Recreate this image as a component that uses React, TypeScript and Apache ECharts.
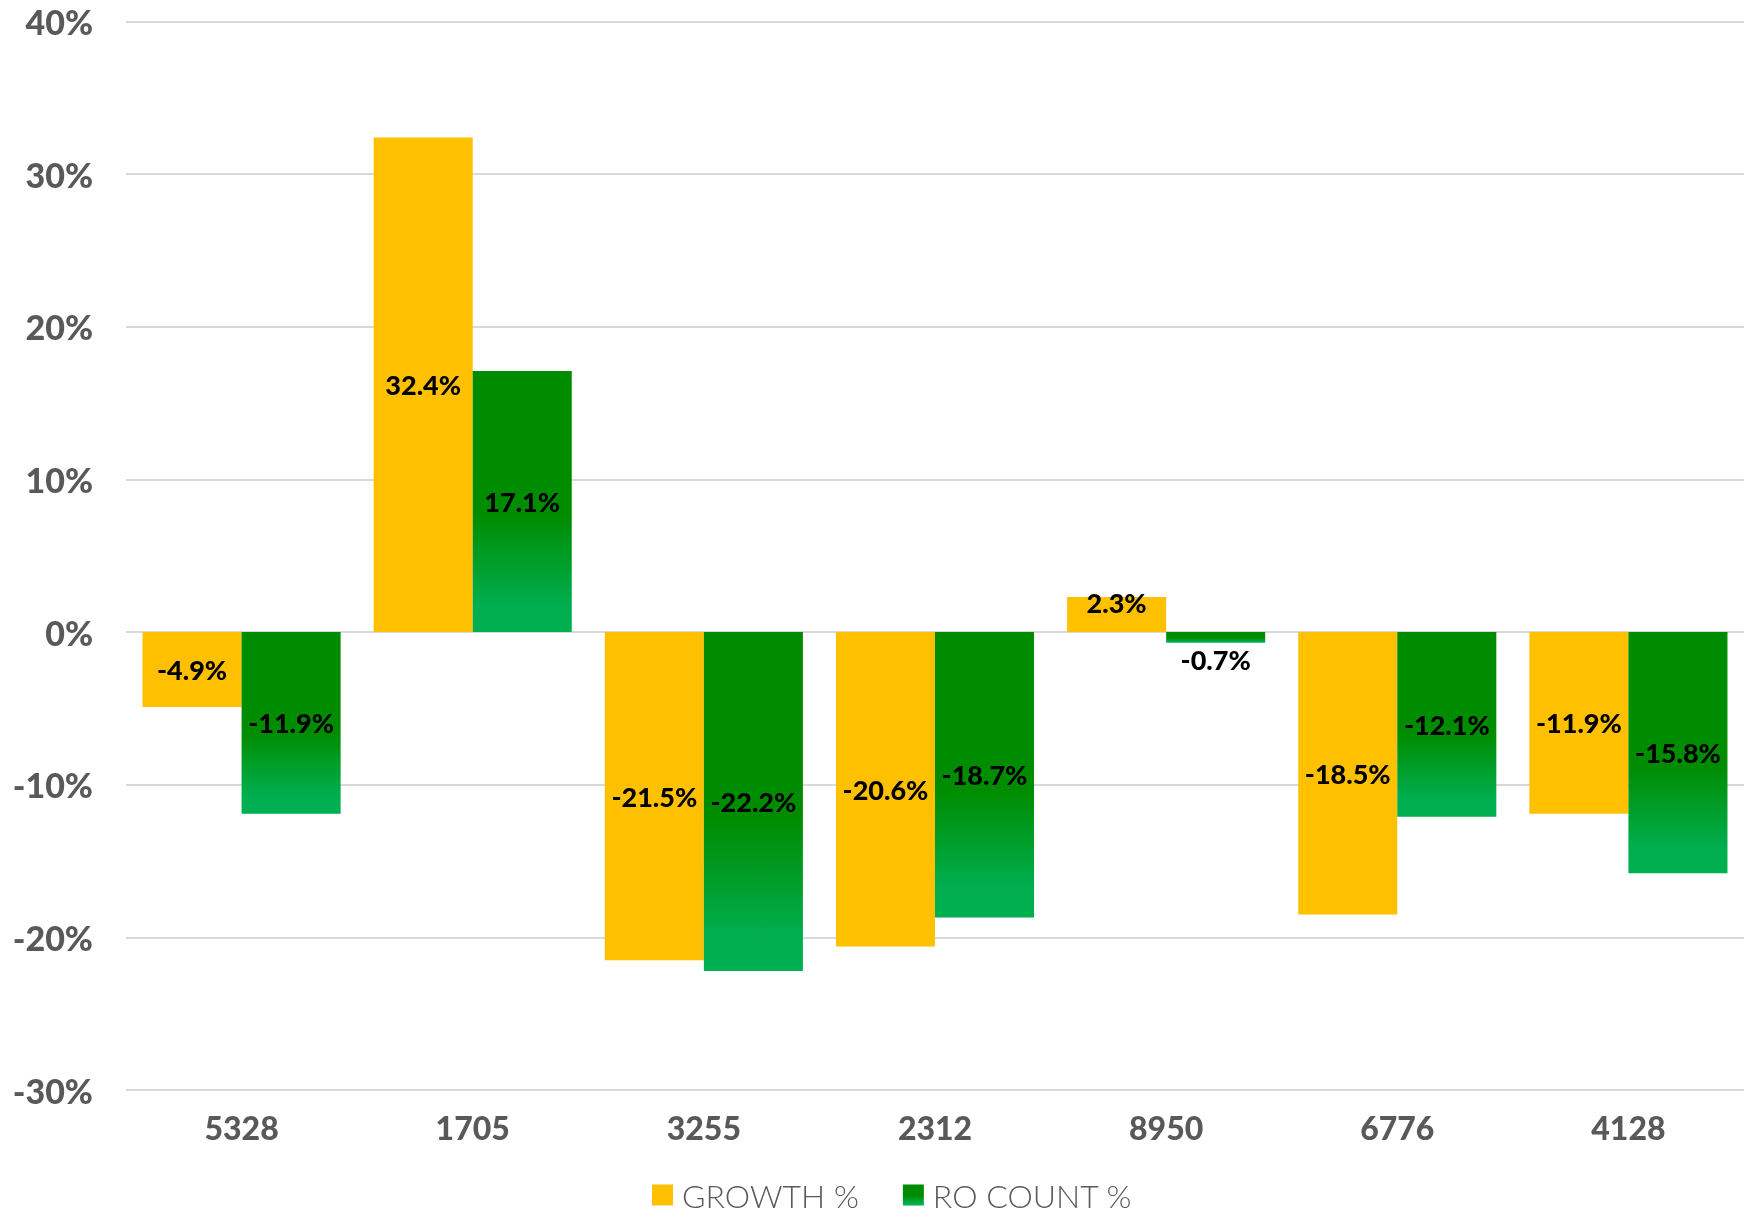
import React, { useEffect, useRef } from "react";
import * as echarts from "echarts";

const categories = ["5328", "1705", "3255", "2312", "8950", "6776", "4128"];
const growth = [-4.9, 32.4, -21.5, -20.6, 2.3, -18.5, -11.9];
const roCount = [-11.9, 17.1, -22.2, -18.7, -0.7, -12.1, -15.8];
const seriesNames = ["GROWTH %", "RO COUNT %"];

const FONT = "Lato, 'Noto Sans', sans-serif";

export default function App() {
  const ref = useRef<HTMLDivElement>(null);
  useEffect(() => {
    document.body.style.margin = "0";
    const chart = echarts.init(ref.current!, null, { renderer: "svg" });
    const greenGrad = new echarts.graphic.LinearGradient(0, 0, 0, 1, [
      { offset: 0, color: "#008C00" },
      { offset: 0.55, color: "#008C00" },
      { offset: 0.9, color: "#00AE50" },
      { offset: 1, color: "#00B050" },
    ]);
    const labelBase = {
      show: true,
      position: "inside",
      color: "#000",
      fontFamily: FONT,
      fontWeight: 900,
      fontSize: 27,
      formatter: (p: any) => p.value.toFixed(1) + "%",
    };
    chart.setOption({
      animation: false,
      grid: { left: 126, right: 0, top: 21.6, bottom: 127, containLabel: false, outerBoundsMode: "none" },
      legend: {
        data: seriesNames,
        top: 1174,
        left: 647,
        itemWidth: 21,
        itemHeight: 21,
        itemGap: 44,
        icon: "rect",
        textStyle: { fontFamily: FONT, fontWeight: 300, fontSize: 32, color: "#595959", padding: [0, 0, 0, 4] },
      },
      xAxis: {
        type: "category",
        data: categories,
        axisLine: { show: false, onZero: false },
        axisTick: { show: false },
        axisLabel: { margin: 21, fontFamily: FONT, fontWeight: 900, fontSize: 32, color: "#595959" },
      },
      yAxis: {
        type: "value",
        min: -30,
        max: 40,
        interval: 10,
        axisLine: { show: false },
        axisTick: { show: false },
        splitLine: { lineStyle: { color: "#D9D9D9", width: 2 } },
        axisLabel: {
          margin: 33,
          fontFamily: FONT,
          fontWeight: 900,
          fontSize: 34,
          color: "#595959",
          formatter: (v: number) => v + "%",
        },
      },
      series: [
        {
          name: seriesNames[0],
          type: "bar",
          barGap: "0%",
          barCategoryGap: "14.3%",
          itemStyle: { color: "#FFC000" },
          label: labelBase,
          data: growth.map((v, i) =>
            categories[i] === "8950" ? { value: v, label: { offset: [0, -12] } } : v
          ),
        },
        {
          name: seriesNames[1],
          type: "bar",
          barGap: "0%",
          barCategoryGap: "14.3%",
          itemStyle: { color: greenGrad },
          label: labelBase,
          data: roCount.map((v, i) =>
            categories[i] === "8950" ? { value: v, label: { position: "bottom", distance: 3 } } : v
          ),
        },
      ],
    });
    return () => chart.dispose();
  }, []);
  return <div ref={ref} style={{ position: "fixed", left: 0, top: 0, width: 1744, height: 1217 }} />;
}
